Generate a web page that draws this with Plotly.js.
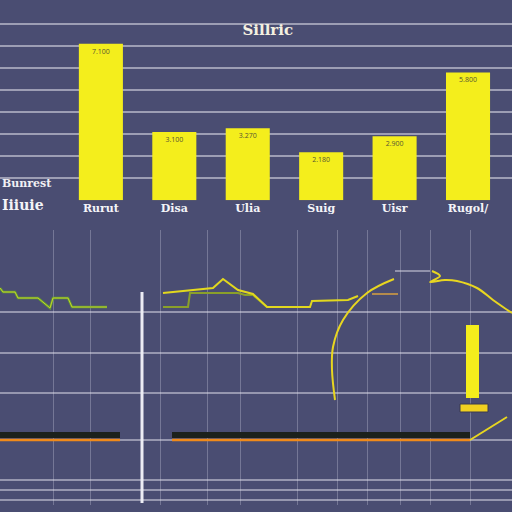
<!DOCTYPE html>
<html><head><meta charset="utf-8">
<script src="https://cdn.plot.ly/plotly-3.0.1.min.js"></script>
<style>html,body{margin:0;padding:0;background:#4a4d72}#c{width:512px;height:512px}</style>
</head><body><div id="c"></div>
<script>
// Top bar panel
const categories = ["Rurut", "Disa", "Ulia", "Suig", "Uisr", "Rugol/"];
const barValues = [7.1, 3.1, 3.27, 2.18, 2.9, 5.8];

// Lower panel series (x, y)
const greenX = [0, 3, 15, 18, 38, 50, 53, 68, 72, 107];
const greenY = [224, 220, 220, 214, 214, 204, 214, 214, 205, 205];
const midUpperX = [163, 213, 223, 238, 253, 267, 310, 312, 348, 358];
const midUpperY = [219, 224, 233, 222, 218, 205, 205, 211, 212, 216];
const midLowerX = [163, 188, 190, 238, 245, 253, 267];
const midLowerY = [205, 205, 219, 219, 217, 217, 205];
const arcLeftX = [394, 367, 343, 333, 332, 335];
const arcLeftY = [233, 219, 192, 165, 142, 112];
const arcRightX = [432, 440, 430, 445, 457, 477, 493, 503, 512];
const arcRightY = [241, 236, 230, 232, 231, 224, 212, 205, 199];
const orangeShortX = [372, 398];
const orangeShortY = [218, 218];
const whiteShortX = [395, 430];
const whiteShortY = [241, 241];
const blackBarX = [0, 120, null, 172, 470];
const blackBarY = [77, 77, null, 77, 77];
const orangeBaseX = [0, 120, null, 172, 470];
const orangeBaseY = [72, 72, null, 72, 72];
const tailX = [470, 507];
const tailY = [72, 95];
const markerX = [142, 142];
const markerY = [220, 9];
const tallBarX = [472.5];
const tallBarLen = [73];
const tallBarBase = [114];
const smallBarX = [474];
const smallBarLen = [8];
const smallBarBase = [100];
const lowerGridX = [53, 90, 160, 207, 240, 297, 337, 367, 400, 430, 470];
const lowerGridY = [200, 159, 119, 72, 32, 22, 12];

const Y = '#f4ee1c';
const traces = [
  {type:'bar', x:categories, y:barValues, xaxis:'x', yaxis:'y', marker:{color:Y},
   texttemplate:'%{y:.3f}', textposition:'inside', insidetextanchor:'end',
   textfont:{size:7, color:'#555533'}, hoverinfo:'none'},
  {type:'scatter', mode:'lines', x:greenX, y:greenY, xaxis:'x2', yaxis:'y2', line:{color:'#5f9a34', width:2.5}},
  {type:'scatter', mode:'lines', x:greenX, y:greenY, xaxis:'x2', yaxis:'y2', line:{color:'#c7d22a', width:1}},
  {type:'scatter', mode:'lines', x:midLowerX, y:midLowerY, xaxis:'x2', yaxis:'y2', line:{color:'#8aa02a', width:2}},
  {type:'scatter', mode:'lines', x:midUpperX, y:midUpperY, xaxis:'x2', yaxis:'y2', line:{color:'#e2d81e', width:2}},
  {type:'scatter', mode:'lines', x:orangeShortX, y:orangeShortY, xaxis:'x2', yaxis:'y2', line:{color:'#d8a040', width:1.5}},
  {type:'scatter', mode:'lines', x:whiteShortX, y:whiteShortY, xaxis:'x2', yaxis:'y2', line:{color:'#d8d8e4', width:1.2}},
  {type:'scatter', mode:'lines', x:arcLeftX, y:arcLeftY, xaxis:'x2', yaxis:'y2', line:{color:'#e8d620', width:2, shape:'spline'}},
  {type:'scatter', mode:'lines', x:arcRightX, y:arcRightY, xaxis:'x2', yaxis:'y2', line:{color:'#e8d620', width:2, shape:'spline'}},
  {type:'scatter', mode:'lines', x:blackBarX, y:blackBarY, xaxis:'x2', yaxis:'y2', line:{color:'#1c211c', width:6}},
  {type:'scatter', mode:'lines', x:orangeBaseX, y:orangeBaseY, xaxis:'x2', yaxis:'y2', line:{color:'#f08a1a', width:2.5}},
  {type:'scatter', mode:'lines', x:tailX, y:tailY, xaxis:'x2', yaxis:'y2', line:{color:'#e8d620', width:2}},
  {type:'scatter', mode:'lines', x:markerX, y:markerY, xaxis:'x2', yaxis:'y2', line:{color:'#ececf4', width:3}},
  {type:'bar', x:tallBarX, y:tallBarLen, base:tallBarBase, width:13, xaxis:'x2', yaxis:'y2', marker:{color:Y}},
  {type:'bar', x:smallBarX, y:smallBarLen, base:smallBarBase, width:28, xaxis:'x2', yaxis:'y2', marker:{color:'#f0d020', line:{color:'#3a3a50', width:1}}}
];

const grid = 'rgba(225,225,235,0.55)';
const layout = {
  width:512, height:512, showlegend:false,
  margin:{l:0, r:0, t:0, b:0},
  paper_bgcolor:'#4a4d72', plot_bgcolor:'#4a4d72',
  bargap:0.4,
  title:{text:'Sillric', x:0.523, y:0.942, xanchor:'center', yanchor:'middle',
         font:{family:'DejaVu Serif', size:15, color:'#f4f0e0', weight:'bold'}},
  xaxis:{domain:[0,1], anchor:'y', type:'category', range:[-1.374,5.599], showgrid:false, zeroline:false,
         ticks:'', tickfont:{family:'DejaVu Serif', size:11, color:'#f4f4f8', weight:'bold'}},
  yaxis:{domain:[0.609,0.961], anchor:'x', range:[0,8.18], dtick:1, gridcolor:grid, gridwidth:1.5,
         showticklabels:false, zeroline:false},
  xaxis2:{domain:[0,1], anchor:'y2', range:[0,512], tickvals:lowerGridX, showticklabels:false,
          gridcolor:'rgba(220,220,235,0.3)', zeroline:false},
  yaxis2:{domain:[7/512,282/512], anchor:'x2', range:[7,282], tickvals:lowerGridY, showticklabels:false,
          gridcolor:'rgba(225,225,235,0.5)', gridwidth:1.2, zeroline:false},
  annotations:[
    {text:'Bunrest', xref:'paper', yref:'paper', x:0, y:1-183/512, xanchor:'left', yanchor:'middle', showarrow:false,
     font:{family:'DejaVu Serif', size:11, color:'#f0f0f4', weight:'bold'}},
    {text:'Iiiuie', xref:'paper', yref:'paper', x:0, y:1-205/512, xanchor:'left', yanchor:'middle', showarrow:false,
     font:{family:'DejaVu Serif', size:14, color:'#f4f4f8', weight:'bold'}}
  ]
};
Plotly.newPlot('c', traces, layout, {staticPlot:true});
</script></body></html>
